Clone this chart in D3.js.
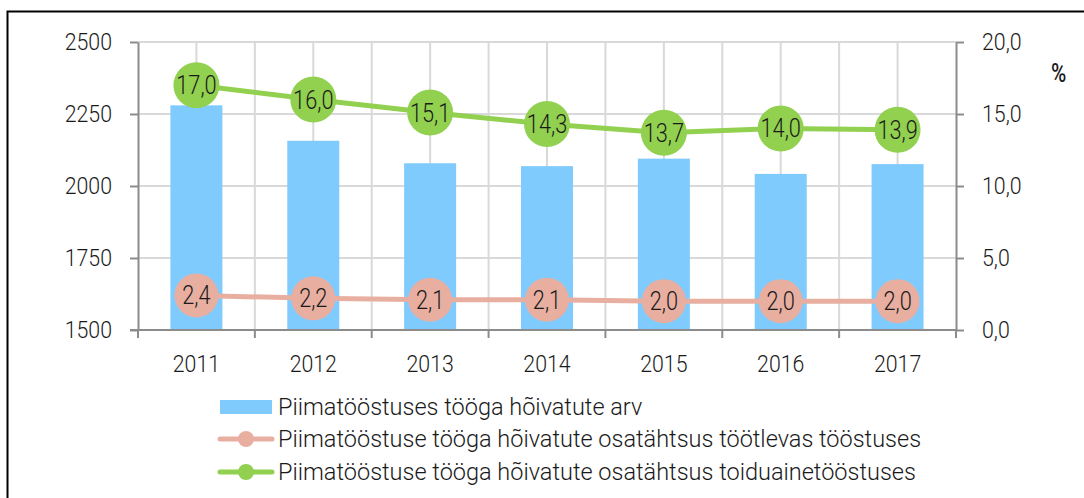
<!DOCTYPE html>
<html>
<head>
<meta charset="utf-8">
<script src="https://cdn.jsdelivr.net/npm/d3@7"></script>
<style>
	body { margin: 0; background: #fff; }
	text { font-family: Roboto, "Noto Sans", sans-serif; font-weight: 300; fill: #1a1a1a; }
</style>
</head>
<body>
<div id="wrapper"></div>
<script>
var width = 1084;
var height = 498;

var years = ["2011", "2012", "2013", "2014", "2015", "2016", "2017"];
var workers = [2280, 2157, 2079, 2069, 2095, 2042, 2076];
var shareProcessing = [2.4, 2.2, 2.1, 2.1, 2.0, 2.0, 2.0];
var shareFood = [17.0, 16.0, 15.1, 14.3, 13.7, 14.0, 13.9];
var leftTicks = [1500, 1750, 2000, 2250, 2500];
var rightTicks = [0, 5, 10, 15, 20];
var seriesNames = [
	"Piimatööstuses tööga hõivatute arv",
	"Piimatööstuse tööga hõivatute osatähtsus töötlevas tööstuses",
	"Piimatööstuse tööga hõivatute osatähtsus toiduainetööstuses"
];

var barColor = "#80cbfd";
var pinkColor = "#e8afa1";
var greenColor = "#92d050";
var gridColor = "#d9d9d9";
var axisColor = "#8c8c8c";

var fmt = function(v){ return d3.format(".1f")(v).replace(".", ","); };

// squeeze text horizontally, the source font is a narrow one
function condense(sel, k){
	sel.each(function(){
		var w = this.getComputedTextLength();
		d3.select(this).attr("textLength", w * k).attr("lengthAdjust", "spacingAndGlyphs");
	});
}

var svg = d3.select("#wrapper").append("svg")
	.attr("width", width)
	.attr("height", height);

// frame (only top and left edge are visible in the picture)
svg.append("path")
	.attr("d", "M 7.5 " + height + " L 7.5 11.5 L " + width + " 11.5")
	.attr("fill", "none")
	.attr("stroke", "#000")
	.attr("stroke-width", 2);

var x = d3.scaleBand().domain(years).range([138, 956]).padding(0);
var yLeft = d3.scaleLinear().domain([1500, 2500]).range([330, 42]);
var yRight = d3.scaleLinear().domain([0, 20]).range([330, 42]);

// gridlines
var grid = svg.append("g").attr("class", "grid");
grid.selectAll("line.h").data(leftTicks.slice(1)).enter().append("line")
	.attr("x1", x.range()[0]).attr("x2", x.range()[1])
	.attr("y1", function(d){ return yLeft(d); })
	.attr("y2", function(d){ return yLeft(d); })
	.attr("stroke", gridColor).attr("stroke-width", 2);

var vx = [];
years.forEach(function(y, i){
	vx.push(x(y) + x.bandwidth() / 2);
	if (i > 0) vx.push(x(y));
});
grid.selectAll("line.v").data(vx).enter().append("line")
	.attr("x1", function(d){ return d; }).attr("x2", function(d){ return d; })
	.attr("y1", yLeft(2500)).attr("y2", yLeft(1500))
	.attr("stroke", gridColor).attr("stroke-width", 2);

// bars
var barW = x.bandwidth() * 0.445;
svg.append("g").selectAll("rect").data(workers).enter().append("rect")
	.attr("x", function(d, i){ return x(years[i]) + (x.bandwidth() - barW) / 2; })
	.attr("y", function(d){ return yLeft(d); })
	.attr("width", barW)
	.attr("height", function(d){ return yLeft(1500) - yLeft(d); })
	.attr("fill", barColor);

// axes
function styleAxis(g){
	g.select(".domain").attr("stroke", axisColor).attr("stroke-width", 2);
	g.selectAll(".tick line").attr("stroke", axisColor).attr("stroke-width", 2);
	g.selectAll(".tick text").style("font-size", "24.5px").attr("fill", "#1a1a1a");
}

var leftAxis = svg.append("g")
	.attr("transform", "translate(138,0)")
	.call(d3.axisLeft(yLeft).tickValues(leftTicks).tickSize(8).tickSizeOuter(0).tickPadding(18)
		.tickFormat(d3.format("d")));
styleAxis(leftAxis);
leftAxis.selectAll(".tick text").attr("dy", "0.3em");
condense(leftAxis.selectAll(".tick text"), 0.87);

var rightAxis = svg.append("g")
	.attr("transform", "translate(956,0)")
	.call(d3.axisRight(yRight).tickValues(rightTicks).tickSize(8).tickSizeOuter(0).tickPadding(18)
		.tickFormat(fmt));
styleAxis(rightAxis);
rightAxis.selectAll(".tick text").attr("dy", "0.3em");
condense(rightAxis.selectAll(".tick text"), 0.87);

var bottomAxis = svg.append("g")
	.attr("transform", "translate(0,330)")
	.call(d3.axisBottom(x).tickSize(0).tickPadding(42));
styleAxis(bottomAxis);
bottomAxis.select(".domain").attr("d", "M130,0H956");
bottomAxis.selectAll(".tick text").attr("dy", "0");
condense(bottomAxis.selectAll(".tick text"), 0.87);
svg.append("g").selectAll("line").data(years.concat(["end"])).enter().append("line")
	.attr("x1", function(d, i){ return x.range()[0] + i * x.bandwidth(); })
	.attr("x2", function(d, i){ return x.range()[0] + i * x.bandwidth(); })
	.attr("y1", 330).attr("y2", 338)
	.attr("stroke", axisColor).attr("stroke-width", 2);

svg.append("text")
	.attr("x", 1051).attr("y", 82)
	.style("font-size", "26px").style("font-weight", 500)
	.text("%")
	.call(condense, 0.8);

// lines with labelled markers
function drawSeries(values, color, r){
	var line = d3.line()
		.x(function(d, i){ return x(years[i]) + x.bandwidth() / 2; })
		.y(function(d){ return yRight(d); });
	svg.append("path")
		.datum(values)
		.attr("d", line)
		.attr("fill", "none")
		.attr("stroke", color)
		.attr("stroke-width", 5);
	var g = svg.append("g").selectAll("g").data(values).enter().append("g")
		.attr("transform", function(d, i){
			return "translate(" + (x(years[i]) + x.bandwidth() / 2) + "," + yRight(d) + ")";
		});
	g.append("circle").attr("r", r).attr("fill", color);
	var t = g.append("text")
		.attr("text-anchor", "middle")
		.attr("dy", "0.36em")
		.style("font-size", "25px")
		.text(fmt);
	condense(t, 0.87);
}
drawSeries(shareProcessing, pinkColor, 22);
drawSeries(shareFood, greenColor, 23);

// legend
var legend = svg.append("g");
var rows = [407, 439, 472];
legend.append("rect")
	.attr("x", 220).attr("y", rows[0] - 7)
	.attr("width", 52).attr("height", 14)
	.attr("fill", barColor);
[pinkColor, greenColor].forEach(function(c, i){
	var cy = rows[i + 1];
	legend.append("line")
		.attr("x1", 220).attr("x2", 272)
		.attr("y1", cy).attr("y2", cy)
		.attr("stroke", c).attr("stroke-width", 5)
		.attr("stroke-linecap", "round");
	legend.append("circle").attr("cx", 246).attr("cy", cy).attr("r", 8).attr("fill", c);
});
legend.selectAll("text").data(seriesNames).enter().append("text")
	.attr("x", 278)
	.attr("y", function(d, i){ return rows[i]; })
	.attr("dy", "0.36em")
	.style("font-size", "23.5px")
	.text(function(d){ return d; });
</script>
</body>
</html>
